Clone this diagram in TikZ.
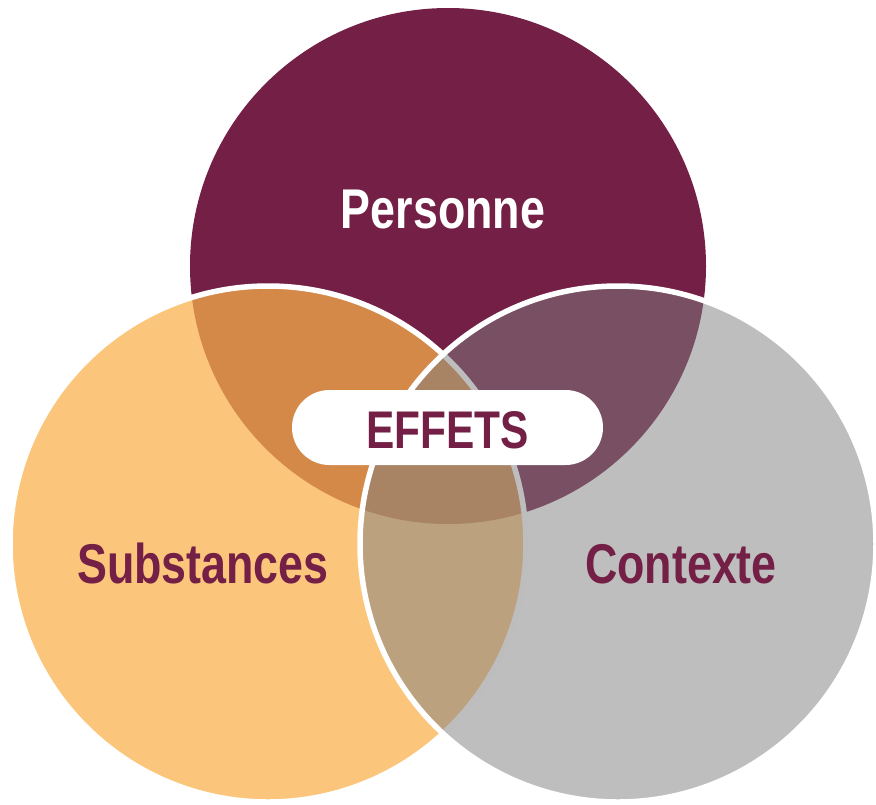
\documentclass[tikz,border=0pt]{standalone}
\usepackage{fontspec}
\newfontfamily\vennfont{Liberation Sans}[FakeStretch=0.8]
\definecolor{persred}{HTML}{731F46}
\definecolor{substorange}{RGB}{249,177,75}
\definecolor{contgray}{RGB}{127,127,127}

\begin{document}
\begin{tikzpicture}
[x=1pt,y=-1pt,
 every node/.style={inner sep=0pt,outer sep=0pt},
 set/.style={circle,minimum size=516pt},
 rim/.style={draw=white,line width=5.5pt},
 lbl/.style={anchor=base,font=\vennfont\bfseries\fontsize{56}{60}\selectfont},
 pill/.style={rectangle,rounded corners=37.5pt,fill=white,minimum width=311pt,minimum height=75pt}]
\useasboundingbox (0,0) rectangle (876,804);
\clip (0,0) rectangle (876,804);
% the three sets
\node[set,fill=persred]                            (pers)  at (448,266) {};
\node[set,rim,fill=substorange,fill opacity=0.73]  (subst) at (268,544) {};
\node[set,rim,fill=contgray,fill opacity=0.51]     (cont)  at (618,544) {};
% labels
\node[lbl,text=white]   (lpers)  at (443,228) {Personne};
\node[lbl,text=persred] (lsubst) at (203,583) {Substances};
\node[lbl,text=persred] (lcont)  at (681,583) {Contexte};
% centre
\node[pill] (centre) at (447.5,427.5) {};
\node[lbl,text=persred,font=\vennfont\bfseries\fontsize{53}{56}\selectfont] (effets) at (447.5,448) {EFFETS};
\end{tikzpicture}
\end{document}
